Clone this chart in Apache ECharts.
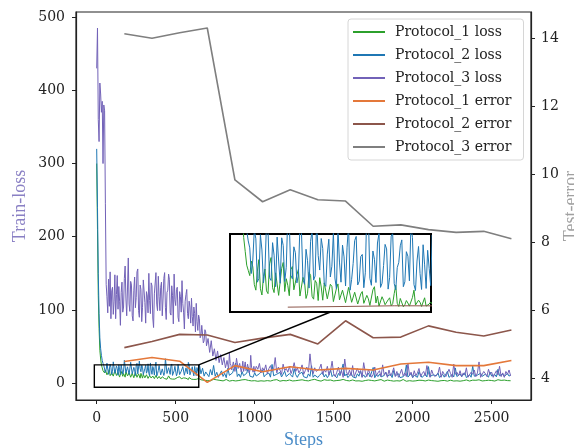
<!DOCTYPE html>
<html><head><meta charset="utf-8">
<script src="https://cdn.jsdelivr.net/npm/echarts@6/dist/echarts.min.js"></script>
<style>html,body{margin:0;padding:0;background:#fff}#c{width:574px;height:448px}</style>
</head><body><div id="c"></div>
<script>
// Loss curves: dense early part every EARLY_STEP steps from 0, then every LATE_STEP steps
const EARLY_STEP = 5;
const LATE_STEP = 10;
const P12_LATE_START = 650;
const P3_LATE_START = 1000;

const p1LossEarly = [
300,210,120,75,45,33,25,21,17,15.5,
14,18.2,16.5,11.4,9.8,15.3,18.6,10.2,8.4,13.7,
15.9,9.6,8.8,17.4,19.2,10.5,9.1,14.8,14.4,8.3,
7.9,16.1,17.8,9.4,13.1,11.2,8.2,15.7,16.6,9.9,
9.4,14.2,15.8,8.1,7.6,13.5,12.3,7.4,8.9,14.9,
14.1,8.0,7.2,12.6,11.8,6.8,13.4,10.7,6.9,11.9,
12.2,7.3,7.8,11.5,10.9,6.5,6.4,10.3,11.6,7.0,
7.1,9.8,9.3,6.2,5.9,10.6,10.1,6.3,6.6,9.2,
8.9,5.8,5.6,8.7,9.4,6.0,6.2,8.3,7.3,5.4,
5.3,9.9,10.8,6.1,8.1,5.2,5.5,7.9,6.9,5.6,
5.2,7.0,7.6,5.3,5.9,8.8,11.2,6.0,5.1,7.4,
7.2,5.0,5.6,6.8,6.1,5.2,4.9,7.7,9.8,5.5,
5.4,6.9,6.3,5.1,5.0,7.6,5.2,4.8,5.8,6.4
];
const p1LossLate = [
5.8,4.6,5.1,3.9,4.4,
3.6,4.8,3.2,4.1,5.3,3.4,4.5,2.9,3.8,4.6,
3.1,4.2,5.0,3.5,2.8,4.4,3.7,5.2,3.0,4.1,
3.6,2.7,4.5,3.3,4.9,2.9,3.8,4.3,3.1,5.1,
3.4,4.0,2.6,4.7,3.2,3.9,2.8,4.4,3.5,5.4,
2.9,3.7,4.2,3.0,4.8,3.3,2.7,4.1,3.6,4.5,
3.2,2.6,4.3,3.8,3.0,5.0,3.4,2.8,4.0,3.5,
4.6,2.9,3.6,4.2,3.1,2.7,4.4,3.3,5.2,3.0,
3.7,4.1,2.8,3.5,4.7,3.2,3.9,2.6,4.3,3.4,
3.0,4.5,3.6,2.9,4.0,3.3,5.1,2.8,3.7,4.2,
3.1,2.7,4.4,3.5,3.0,4.8,3.2,3.9,2.6,4.1,
3.6,3.0,4.3,2.8,3.7,4.6,3.1,2.9,4.0,3.4,
4.9,3.2,2.7,3.8,4.2,3.0,3.5,4.5,2.8,3.6,
3.3,4.1,2.9,3.7,5.0,3.1,2.6,4.3,3.4,3.9,
2.8,4.4,3.2,3.6,4.0,2.7,3.8,4.6,3.0,3.3,
4.2,2.9,3.5,4.7,3.1,3.9,2.6,4.1,3.4,3.0,
3.7,4.5,2.8,3.3,4.0,3.6,2.9,4.8,3.2,3.5,
2.7,4.2,3.4,3.0,4.4,3.8,2.9,3.6,4.1,3.1,
3.9,2.8,4.6,3.3,3.0,4.3,3.5,2.7,4.0,3.2,
3.6,4.4,2.9,3.1,4.7,3.4,3.8,2.8,4.2,3.0,
3.5,4.1,3.3
];
const p2LossEarly = [
320,240,150,95,62,47,38,31,27,24,
22,14.6,18.5,27.2,24.6,12.1,13.2,25.8,21.4,11.9,
15.8,29.1,27.3,13.4,12.6,23.5,19.9,10.8,25.1,18.2,
11.8,24.9,22.7,12.3,16.4,31.2,29.5,14.1,13.1,22.3,
20.6,11.9,14.2,28.5,26.8,12.8,11.5,21.6,18.3,10.4,
23.9,27.1,12.7,13.9,30.2,19.8,15.6,24.7,21.8,11.6,
10.9,20.2,24.5,13.6,16.7,26.4,13.3,10.2,27.6,17.9,
12.1,22.8,19.4,11.0,22.2,28.7,9.8,12.9,17.5,24.1,
25.3,11.3,12.4,19.5,20.1,10.5,14.8,33.4,31.6,13.2,
11.2,21.1,18.7,12.0,23.4,26.2,10.6,11.8,16.9,23.0,
21.7,10.1,13.5,25.4,26.1,11.7,9.9,16.3,17.8,22.6,
24.3,10.8,12.2,20.9,19.6,12.5,28.4,25.0,11.4,9.7,
18.2,22.4,14.6,10.0,22.9,17.1,10.3,21.3,16.1,11.1
];
const p2LossLate = [
25.7,12.8,20.4,9.6,15.3,
13.7,8.9,18.6,11.1,24.2,9.4,14.9,7.8,12.5,16.8,
9.2,13.4,7.5,20.3,10.7,8.6,14.1,11.9,27.4,9.1,
12.6,7.9,15.8,10.2,8.4,13.7,22.1,9.5,11.3,8.1,
14.4,9.8,7.6,12.9,10.5,18.2,8.7,11.6,9.3,13.8,
8.2,25.6,10.1,7.7,12.3,9.6,14.7,8.5,11.2,16.4,
9.0,7.4,13.1,10.8,8.3,19.7,11.5,7.9,12.4,9.7,
14.9,8.8,10.4,7.2,12.7,9.3,23.8,8.1,11.0,13.5,
7.8,10.6,9.1,15.2,8.4,12.0,7.5,10.9,18.6,8.9,
11.7,9.4,7.3,13.3,10.2,8.0,26.2,9.8,12.6,7.6,
10.4,14.1,8.7,9.9,7.1,12.8,9.5,16.9,8.2,11.3,
7.9,10.7,13.6,8.5,9.2,21.4,7.4,11.8,9.0,12.2,
8.6,7.3,10.5,14.8,9.4,8.1,12.1,7.7,17.3,10.0,
9.1,12.9,7.6,10.3,8.8,11.6,24.9,8.3,9.7,13.2,
7.5,10.8,9.3,8.0,15.7,11.1,7.8,9.9,12.5,8.4,
22.6,9.2,7.4,11.4,8.9,10.1,13.9,7.7,9.6,12.0,
8.2,10.6,16.2,7.9,9.4,11.9,8.5,20.8,9.0,7.3,
12.7,8.7,10.2,14.3,7.6,9.8,11.5,8.1,23.5,9.5,
7.8,11.0,8.9,13.6,9.3,7.4,12.3,10.4,8.2,15.1,
9.7,7.9,11.8,8.6,18.9,10.1,7.5,12.6,9.0,8.3,
13.4,9.6,11.2
];
const p3LossEarly = [
430,485,360,330,410,395,370,385,300,380,
372,245,135,118,96,142,105,152,88,126,
131,94,112,148,88,121,147,101,132,112,
79,124,138,97,104,143,160,115,92,130,
171,108,98,139,134,92,85,127,145,103,
117,152,156,99,90,134,128,84,103,141,
141,110,82,125,119,96,150,113,95,137,
133,89,76,122,124,151,108,99,146,118,
99,131,138,92,115,143,151,103,87,124,
127,149,142,96,93,133,120,81,149,114,
106,128,131,90,84,125,118,97,140,109,
97,74,112,121,128,95,88,112,104,82,
116,91,78,104,95,70,109,84,72,93,
88,62,65,79,81,55,58,73,70,51,
52,61,63,42,44,58,56,37,38,47,
49,31,33,44,42,28,29,39,37,25,
26,35,34,21,22,31,30,19,41,27,
24,18,19,29,28,16,23,34,32,20,
18,27,25,15,21,30,16,22,29,17,
20,26,24,14,17,38,22,19,15,23
];
const p3LossLate = [
15,23,19,27,14,21,17,25,13,20,
24,16,19,35,14,22,18,12,26,17,
20,15,23,13,19,28,16,21,14,18,
25,12,17,22,15,40,19,13,21,16,
14,20,26,12,18,15,23,11,17,30,
13,9,15,22,12,17,8,33,16,11,
18,10,24,9,11,20,14,17,8,28,
15,9,19,13,8,12,22,10,14,17,
9,25,11,15,8,18,10,14,21,9,
16,8,13,19,10,14,9,27,11,15,
8,17,10,14,20,9,13,16,10,24,
14,8,18,12,9,10,13,22,8,16,
12,9,10,19,13,8,26,12,15,10,
17,9,14,11,21,8,10,15,12,18,
9,14,29,8,10,16,13,9,19,12,
15,8,13,17,11,23,9,14,8,16,
12,18,10
];
const errSteps = [175,350,525,700,875,1050,1225,1400,1575,1750,1925,2100,2275,2450,2625];
const p1Err = [4.49,4.61,4.50,3.88,4.37,4.19,4.34,4.24,4.29,4.24,4.42,4.47,4.37,4.37,4.52];
const p2Err = [4.90,5.08,5.29,5.27,5.05,5.18,5.29,5.01,5.69,5.19,5.21,5.54,5.35,5.24,5.42];
const p3Err = [14.13,14.00,14.16,14.30,9.83,9.19,9.54,9.25,9.21,8.47,8.51,8.37,8.29,8.32,8.10];

const seriesNames = ['Protocol_1 loss','Protocol_2 loss','Protocol_3 loss','Protocol_1 error','Protocol_2 error','Protocol_3 error'];
const xTicks = [0,500,1000,1500,2000,2500];
const lossTicks = [0,100,200,300,400,500];
const errTicks = [4,6,8,10,12,14];
// zoomed region (steps, loss) and inset loss range
const zoomX = [-15, 646];
const zoomY = [-5.5, 25];
const insetY = [3.5, 26];

const C = {g:'#2ca02c', b:'#1f77b4', p:'#7262b8', o:'#e4783a', br:'#8c564b', gr:'#7f7f7f'};

function lossPairs(early, late, lateStart){
  return early.map((y,i)=>[i*EARLY_STEP, y])
    .concat(late.map((y,i)=>[lateStart + i*LATE_STEP, y]));
}
function errPairs(v){ return v.map((y,i)=>[errSteps[i], y]); }
const p1Data = lossPairs(p1LossEarly, p1LossLate, P12_LATE_START);
const p2Data = lossPairs(p2LossEarly, p2LossLate, P12_LATE_START);
const p3Data = lossPairs(p3LossEarly, p3LossLate, P3_LATE_START);

const chart = echarts.init(document.getElementById('c'), null, {renderer:'canvas'});
const tickFont = {fontFamily:'DejaVu Serif', fontSize:14, color:'#222', formatter:v=>String(v)};
const axLine = {show:true, onZero:false, lineStyle:{color:'#222', width:1.2}};

function lossLine(name, data, color, xi, yi){
  return {name, type:'line', data, xAxisIndex:xi, yAxisIndex:yi, showSymbol:false, symbol:'none',
    lineStyle:{color, width:1}, itemStyle:{color}, sampling:null, clip:true, animation:false};
}
function errLine(name, data, color, xi, yi){
  return {name, type:'line', data, xAxisIndex:xi, yAxisIndex:yi, showSymbol:false, symbol:'none',
    lineStyle:{color, width:1.6}, itemStyle:{color}, clip:true, animation:false};
}

chart.setOption({
  animation:false,
  backgroundColor:'#fff',
  grid:[
    {left:76, top:12, width:455, height:388, show:true, borderColor:'#222', borderWidth:1.2,
     backgroundColor:'transparent', containLabel:false, outerBoundsMode:'none'},
    {left:230, top:234, width:201, height:78, show:true, borderColor:'#000', borderWidth:2,
     backgroundColor:'#fff', z:5, containLabel:false, outerBoundsMode:'none'}
  ],
  xAxis:[
    {type:'value', gridIndex:0, min:-131, max:2749, axisLine:axLine,
     axisTick:{show:true, length:4, lineStyle:{color:'#222'}, customValues:xTicks},
     axisLabel:Object.assign({margin:11, customValues:xTicks}, tickFont),
     splitLine:{show:false},
     name:'Steps', nameLocation:'middle', nameGap:31, nameMoveOverlap:false,
     nameTextStyle:{fontFamily:'Liberation Serif', fontSize:18, color:'#4a8cc8'}},
    {type:'value', gridIndex:1, min:zoomX[0], max:zoomX[1], show:false, splitLine:{show:false}, axisLine:{onZero:false}}
  ],
  yAxis:[
    {type:'value', gridIndex:0, position:'left', min:-23, max:507, axisLine:axLine,
     axisTick:{show:true, length:4, lineStyle:{color:'#222'}, customValues:lossTicks},
     axisLabel:Object.assign({margin:11, customValues:lossTicks}, tickFont),
     splitLine:{show:false},
     name:'Train-loss', nameLocation:'middle', nameGap:47, nameRotate:90, nameMoveOverlap:false,
     nameTextStyle:{fontFamily:'Liberation Serif', fontSize:18, color:'#8a80c4'}},
    {type:'value', gridIndex:0, position:'right', min:3.36, max:14.77, axisLine:axLine,
     axisTick:{show:true, length:4, lineStyle:{color:'#222'}, customValues:errTicks},
     axisLabel:Object.assign({margin:10, customValues:errTicks}, tickFont),
     splitLine:{show:false},
     name:'Test-error', nameLocation:'middle', nameGap:31, nameRotate:90, nameMoveOverlap:false,
     nameTextStyle:{fontFamily:'Liberation Serif', fontSize:18, color:'#a0a0a0'}},
    {type:'value', gridIndex:1, min:insetY[0], max:insetY[1], show:false, splitLine:{show:false}, axisLine:{onZero:false}}
  ],
  legend:{
    orient:'vertical', left:348, top:19, padding:[6,12,6,5],
    itemWidth:32, itemHeight:2, itemGap:9, icon:'rect',
    backgroundColor:'#fff', borderColor:'#d6d6d6', borderWidth:1, borderRadius:3,
    textStyle:{fontFamily:'DejaVu Serif', fontSize:14, color:'#222', lineHeight:14, padding:[0,0,0,5]},
    data:seriesNames, z:20
  },
  series:[
    lossLine(seriesNames[0], p1Data, C.g, 0, 0),
    lossLine(seriesNames[1], p2Data, C.b, 0, 0),
    lossLine(seriesNames[2], p3Data, C.p, 0, 0),
    errLine(seriesNames[3], errPairs(p1Err), C.o, 0, 1),
    errLine(seriesNames[4], errPairs(p2Err), C.br, 0, 1),
    errLine(seriesNames[5], errPairs(p3Err), C.gr, 0, 1),
    Object.assign(lossLine(seriesNames[0], p1Data, C.g, 1, 2), {z:6}),
    Object.assign(lossLine(seriesNames[1], p2Data, C.b, 1, 2), {z:6}),
    Object.assign(errLine(seriesNames[4], errPairs(p2Err), C.br, 1, 2), {z:6, lineStyle:{color:C.br, width:1}})
  ]
});

// mark the zoomed region and connect it to the inset
const a = chart.convertToPixel({xAxisIndex:0, yAxisIndex:0}, [zoomX[0], zoomY[1]]);
const b = chart.convertToPixel({xAxisIndex:0, yAxisIndex:0}, [zoomX[1], zoomY[0]]);
const m = chart.convertToPixel({xAxisIndex:1, yAxisIndex:2}, [(zoomX[0]+zoomX[1])/2, insetY[0]]);
chart.setOption({graphic:[
  {type:'rect', shape:{x:a[0], y:a[1], width:b[0]-a[0], height:b[1]-a[1]},
   style:{fill:null, stroke:'#000', lineWidth:1.4}, z:10, silent:true},
  {type:'line', shape:{x1:b[0], y1:a[1], x2:m[0], y2:m[1]},
   style:{stroke:'#000', lineWidth:1.4}, z:10, silent:true}
]});
</script></body></html>
